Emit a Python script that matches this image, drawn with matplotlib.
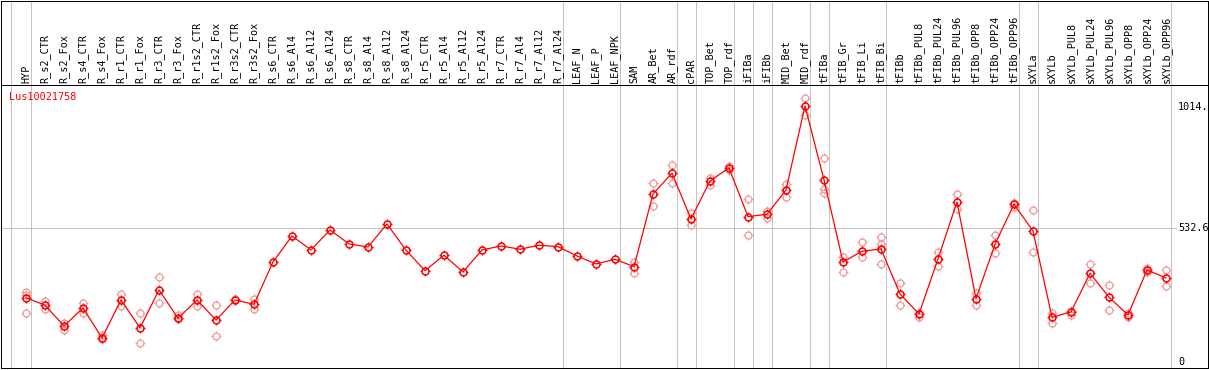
import matplotlib
matplotlib.use("Agg")
import matplotlib.pyplot as plt
from matplotlib.path import Path

# ---------------- data ----------------
samples = ["HYP", "R_s2_CTR", "R_s2_Fox", "R_s4_CTR", "R_s4_Fox", "R_r1_CTR", "R_r1_Fox",
           "R_r3_CTR", "R_r3_Fox", "R_r1s2_CTR", "R_r1s2_Fox", "R_r3s2_CTR", "R_r3s2_Fox",
           "R_s6_CTR", "R_s6_Al4", "R_s6_Al12", "R_s6_Al24", "R_s8_CTR", "R_s8_Al4",
           "R_s8_Al12", "R_s8_Al24", "R_r5_CTR", "R_r5_Al4", "R_r5_Al12", "R_r5_Al24",
           "R_r7_CTR", "R_r7_Al4", "R_r7_Al12", "R_r7_Al24", "LEAF_N", "LEAF_P", "LEAF_NPK",
           "SAM", "AR_Bet", "AR_rdf", "cPAR", "TOP_Bet", "TOP_rdf", "iFIBa", "iFIBb",
           "MID_Bet", "MID_rdf", "tFIBa", "tFIB_Gr", "tFIB_Li", "tFIB_Bi", "tFIBb",
           "tFIBb_PUL8", "tFIBb_PUL24", "tFIBb_PUL96", "tFIBb_OPP8", "tFIBb_OPP24",
           "tFIBb_OPP96", "sXYLa", "sXYLb", "sXYLb_PUL8", "sXYLb_PUL24", "sXYLb_PUL96",
           "sXYLb_OPP8", "sXYLb_OPP24", "sXYLb_OPP96"]

means = [255.5, 225.2, 142.9, 214.5, 95.1, 246.3, 134.9, 286.1, 173.5, 246.3, 166.7,
         246.3, 229.2, 397.5, 501.0, 445.3, 524.9, 469.2, 457.2, 548.7, 444.1, 362.9,
         424.2, 357.7, 445.3, 461.2, 448.1, 464.0, 458.4, 421.4, 389.6, 408.3, 378.8,
         668.1, 750.5, 568.6, 719.9, 771.6, 577.8, 587.3, 684.0, 1018.3, 723.8, 397.5,
         440.1, 449.3, 270.2, 190.6, 409.5, 636.3, 251.5, 468.0, 627.1, 520.9, 177.5,
         198.6, 352.6, 257.1, 186.6, 365.7, 333.9]

# replicate values: (sample index, value)
rep_index = [0, 0, 0, 1, 1, 2, 2, 3, 3, 4, 4, 5, 5, 6, 6, 7, 7, 8, 8, 9, 9, 10, 10,
             11, 12, 12,
             32, 32, 33, 33, 34, 34, 35, 35, 36, 36, 37, 37, 38, 38, 39, 39, 40, 40,
             41, 41, 42, 42, 42, 43, 43, 44, 44, 45, 45, 45, 46, 46, 47, 47, 48, 48,
             49, 49, 50, 50, 51, 51, 52, 52, 53, 53, 54, 54, 55, 55, 56, 56, 57, 57,
             58, 58, 59, 59, 60, 60]
rep_value = [279.3, 266.2, 193.4, 243.5, 209.3, 153.6, 126.9, 233.2, 193.4, 105.8, 90.0,
             270.2, 222.4, 193.4, 74.0, 336.6, 233.2, 185.4, 169.5, 270.2, 223.6,
             225.2, 103.0, 250.3, 249.1, 209.3,
             398.7, 355.0, 710.7, 619.2, 783.5, 713.1, 593.7, 544.8, 733.0, 703.9,
             780.7, 763.6, 648.2, 503.8, 601.7, 573.8, 707.9, 655.0, 1050.1, 982.5,
             810.2, 689.2, 673.3, 418.6, 357.7, 478.3, 416.2, 497.0, 469.2, 389.6,
             315.2, 226.4, 195.8, 179.9, 436.1, 381.6, 666.9, 607.2, 273.0, 226.4,
             505.0, 432.1, 633.5, 617.6, 604.5, 438.5, 193.4, 156.0, 203.7, 186.6,
             389.6, 314.0, 304.8, 206.5, 193.4, 177.5, 372.5, 356.5, 365.7, 302.0]

# group boundaries: a separator is drawn just after these sample indices
group_ends = [0, 28, 31, 34, 35, 37, 38, 39, 41, 42, 45, 52, 53, 60]
y_ticks = [1014.0, 532.6, 0.0]
y_tick_labels = ["1014.", "532.6", "0"]
gene = "Lus10021758"

# ---------------- layout ----------------
W, H = 1209, 370
fig = plt.figure(figsize=(W / 100, H / 100), dpi=100)
fig.patch.set_facecolor("white")

px_left, px_right = 1, 1208
px_head_top, px_sep, px_bottom = 0.5, 85, 368
x0_px, dx_px = 26, 19          # pixel of first sample, spacing

def xdata(px):
    return (px - x0_px) / dx_px

# y scale: value 532.6 at pixel 228, 1014 at 107
slope = (228 - 107) / (1014 - 532.6)
y0_px = 228 + 532.6 * slope

def ydata(py):
    return (y0_px - py) / slope

ax = fig.add_axes([px_left / W, (H - px_bottom) / H,
                   (px_right - px_left) / W, (px_bottom - px_sep) / H])
axh = fig.add_axes([px_left / W, (H - px_sep) / H,
                    (px_right - px_left) / W, (px_sep - px_head_top) / H])

xlim = (xdata(px_left), xdata(px_right))
ax.set_xlim(*xlim)
ax.set_ylim(ydata(px_bottom), ydata(px_sep))
axh.set_xlim(*xlim)
axh.set_ylim(0, 1)

lw = 0.72
for a in (ax, axh):
    a.set_xticks([])
    a.set_yticks([])
    for s in a.spines.values():
        s.set_color("black")
        s.set_linewidth(lw)
axh.spines["bottom"].set_visible(False)

grid_c = "#c4c4c4"
sep_x = [xdata(11)] + [i + 4.5 / dx_px for i in group_ends]
for xv in sep_x:
    ax.axvline(xv, color=grid_c, lw=lw, zorder=1)
    axh.axvline(xv, color=grid_c, lw=lw, zorder=1)

ax.plot([xlim[0], xdata(1176)], [532.6, 532.6], color=grid_c, lw=lw, zorder=1)

# marker: circle + small stubs
stub = Path([(0, 0.72), (0, 1), (0, -0.72), (0, -1), (0.72, 0), (1, 0), (-0.72, 0), (-1, 0)],
            [Path.MOVETO, Path.LINETO] * 4)

xs = list(range(len(samples)))
rx = rep_index
pink = "#f09a9a"
ax.plot(rx, rep_value, ls="none", marker="o", ms=5.0, mfc="none", mec=pink, mew=0.9, zorder=2)
ax.plot(rx, rep_value, ls="none", marker=stub, ms=6.8, mec=pink, mew=0.8, zorder=2)

ax.plot(xs, means, color="#ff0000", lw=0.9, zorder=3)
ax.plot(xs, means, ls="none", marker="o", ms=5.0, mfc="none", mec="#ff0000", mew=1.1, zorder=4)
ax.plot(xs, means, ls="none", marker=stub, ms=6.8, mec="#ff0000", mew=0.9, zorder=4)

font = dict(family="DejaVu Sans Mono", fontsize=7.3)
for t, lab in zip(y_ticks, y_tick_labels):
    ax.text(xdata(1178), t, lab, ha="left", va="center", color="black", **font)

ax.text(xdata(9), ydata(97), gene, ha="left", va="center", color="#ff0000", **font)

for i, s in enumerate(samples):
    axh.text(i, 2 / 85, s, rotation=90, ha="center", va="bottom", color="black", **font)

fig.savefig("out.png", dpi=100, facecolor="white")
